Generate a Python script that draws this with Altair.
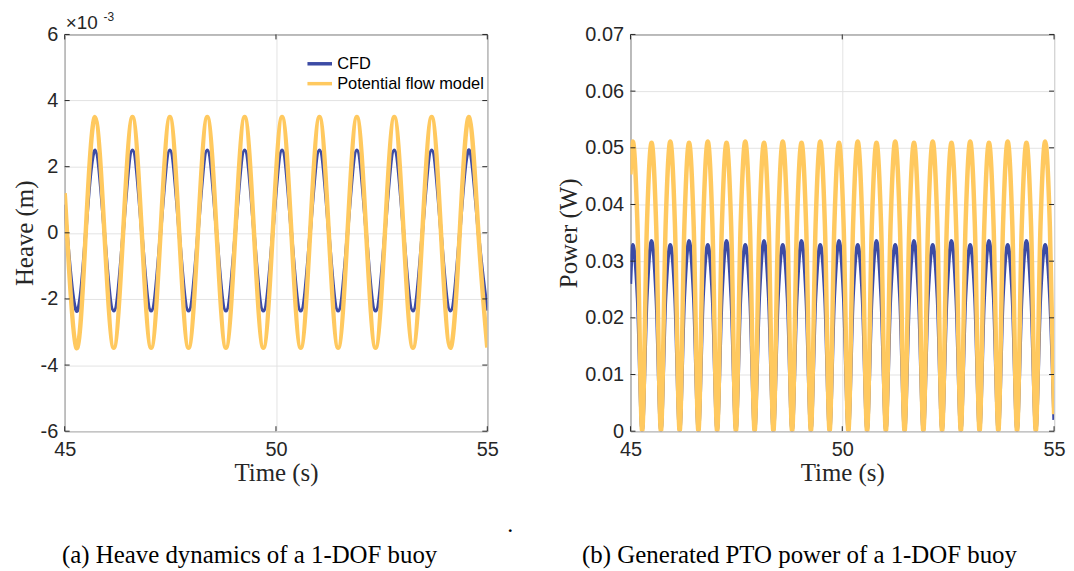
import altair as alt
import pandas as pd

# ---------------- data ----------------
series_names = ["CFD", "Potential flow model"]
series_colors = ["#3c4ba5", "#ffc95f"]

# heave sample times (s): start, extrema / zero crossings, end
heave_t = [45.0,
           45.055, 45.276, 45.498, 45.719, 45.940, 46.161, 46.383, 46.604,
           46.825, 47.046, 47.268, 47.489, 47.710, 47.931, 48.153, 48.374,
           48.595, 48.816, 49.038, 49.259, 49.480, 49.701, 49.923, 50.144,
           50.365, 50.586, 50.808, 51.029, 51.250, 51.471, 51.693, 51.914,
           52.135, 52.356, 52.578, 52.799, 53.020, 53.241, 53.463, 53.684,
           53.905, 54.126, 54.348, 54.569, 54.790,
           55.0]

# heave (x 10^-3 m)
heave_pf = [1.20,
            0, -3.48, 0, 3.50, 0, -3.48, 0, 3.50,
            0, -3.48, 0, 3.50, 0, -3.48, 0, 3.50,
            0, -3.48, 0, 3.50, 0, -3.48, 0, 3.50,
            0, -3.48, 0, 3.50, 0, -3.48, 0, 3.50,
            0, -3.48, 0, 3.50, 0, -3.48, 0, 3.50,
            0, -3.48, 0, 3.50, 0,
            -3.47]
heave_cfd = [0.85,
             0, -2.36, 0, 2.50, 0, -2.36, 0, 2.50,
             0, -2.36, 0, 2.50, 0, -2.36, 0, 2.50,
             0, -2.36, 0, 2.50, 0, -2.36, 0, 2.50,
             0, -2.36, 0, 2.50, 0, -2.36, 0, 2.50,
             0, -2.36, 0, 2.50, 0, -2.36, 0, 2.50,
             0, -2.36, 0, 2.50, 0,
             -2.35]

# power sample times (s): start, peaks / half-way points / zeros, end
power_t = [45.0,
           45.055, 45.166, 45.276, 45.387, 45.498, 45.608, 45.719, 45.829,
           45.940, 46.051, 46.161, 46.272, 46.383, 46.493, 46.604, 46.714,
           46.825, 46.936, 47.046, 47.157, 47.268, 47.378, 47.489, 47.599,
           47.710, 47.821, 47.931, 48.042, 48.153, 48.263, 48.374, 48.484,
           48.595, 48.706, 48.816, 48.927, 49.038, 49.148, 49.259, 49.369,
           49.480, 49.591, 49.701, 49.812, 49.923, 50.033, 50.144, 50.254,
           50.365, 50.476, 50.586, 50.697, 50.808, 50.918, 51.029, 51.139,
           51.250, 51.361, 51.471, 51.582, 51.693, 51.803, 51.914, 52.024,
           52.135, 52.246, 52.356, 52.467, 52.578, 52.688, 52.799, 52.909,
           53.020, 53.131, 53.241, 53.352, 53.463, 53.573, 53.684, 53.794,
           53.905, 54.016, 54.126, 54.237, 54.348, 54.458, 54.569, 54.679,
           54.790, 54.901,
           55.0]

# generated PTO power (W)
power_pf = [0.0453,
            0.0511, 0.0361, 0, 0.0361, 0.0509, 0.0361, 0, 0.0361,
            0.0511, 0.0361, 0, 0.0361, 0.0509, 0.0361, 0, 0.0361,
            0.0511, 0.0361, 0, 0.0361, 0.0509, 0.0361, 0, 0.0361,
            0.0511, 0.0361, 0, 0.0361, 0.0509, 0.0361, 0, 0.0361,
            0.0511, 0.0361, 0, 0.0361, 0.0509, 0.0361, 0, 0.0361,
            0.0511, 0.0361, 0, 0.0361, 0.0509, 0.0361, 0, 0.0361,
            0.0511, 0.0361, 0, 0.0361, 0.0509, 0.0361, 0, 0.0361,
            0.0511, 0.0361, 0, 0.0361, 0.0509, 0.0361, 0, 0.0361,
            0.0511, 0.0361, 0, 0.0361, 0.0509, 0.0361, 0, 0.0361,
            0.0511, 0.0361, 0, 0.0361, 0.0509, 0.0361, 0, 0.0361,
            0.0511, 0.0361, 0, 0.0361, 0.0509, 0.0361, 0, 0.0361,
            0.0511, 0.0361,
            0.0030]
power_cfd = [0.0260,
             0.0329, 0.0235, 0, 0.0235, 0.0336, 0.0235, 0, 0.0235,
             0.0329, 0.0235, 0, 0.0235, 0.0336, 0.0235, 0, 0.0235,
             0.0329, 0.0235, 0, 0.0235, 0.0336, 0.0235, 0, 0.0235,
             0.0329, 0.0235, 0, 0.0235, 0.0336, 0.0235, 0, 0.0235,
             0.0329, 0.0235, 0, 0.0235, 0.0336, 0.0235, 0, 0.0235,
             0.0329, 0.0235, 0, 0.0235, 0.0336, 0.0235, 0, 0.0235,
             0.0329, 0.0235, 0, 0.0235, 0.0336, 0.0235, 0, 0.0235,
             0.0329, 0.0235, 0, 0.0235, 0.0336, 0.0235, 0, 0.0235,
             0.0329, 0.0235, 0, 0.0235, 0.0336, 0.0235, 0, 0.0235,
             0.0329, 0.0235, 0, 0.0235, 0.0336, 0.0235, 0, 0.0235,
             0.0329, 0.0235, 0, 0.0235, 0.0336, 0.0235, 0, 0.0235,
             0.0329, 0.0235,
             0.0020]

x_ticks = [45, 50, 55]
heave_ticks = [-6, -4, -2, 0, 2, 4, 6]
power_ticks = [0, 0.01, 0.02, 0.03, 0.04, 0.05, 0.06, 0.07]

caption_a = "(a) Heave dynamics of a 1-DOF buoy"
caption_b = "(b) Generated PTO power of a 1-DOF buoy"


def long_df(t, cfd, pf):
    return pd.DataFrame({
        "t": t + t,
        "v": cfd + pf,
        "series": [series_names[0]] * len(t) + [series_names[1]] * len(t),
    })


SANS = "Liberation Sans"
SERIF = "Liberation Serif"
AX = "#262626"
W_L, W_R, H = 425, 426, 399
TICK = 5


def panel(df, ytitle, ydomain, yticks, w, h, interp, caption, cap_x, extra=None):
    xscale = alt.Scale(domain=[45, 55], nice=False, zero=False)
    yscale = alt.Scale(domain=ydomain, nice=False, zero=False)
    color = alt.Color(
        "series:N",
        scale=alt.Scale(domain=series_names, range=series_colors),
        legend=alt.Legend(
            title=None, orient="none", legendX=245, legendY=18,
            symbolType="M-1.3,0H1.3", symbolSize=361, symbolStrokeWidth=3.5,
            labelFont=SANS, labelFontSize=16.5, labelColor="black",
            labelOffset=6, rowPadding=0, padding=0,
        ),
    )
    main_x = alt.Axis(values=x_ticks, title="Time (s)", grid=True, ticks=False,
                      domain=False, gridColor="#e3e3e3", labelFont=SANS,
                      labelFontSize=20, labelColor=AX, labelPadding=8,
                      labelFlush=False, labelExpr="toString(datum.value)",
                      titleFont=SERIF, titleFontSize=25, titleFontWeight="normal",
                      titleColor=AX, titlePadding=2)
    main_y = alt.Axis(values=yticks, title=ytitle, grid=True, ticks=False,
                      domain=False, gridColor="#e3e3e3", labelFont=SANS,
                      labelFontSize=20, labelColor=AX, labelPadding=7,
                      labelFlush=False, labelExpr="toString(datum.value)",
                      titleFont=SERIF, titleFontSize=25, titleFontWeight="normal",
                      titleColor=AX, titlePadding=3)
    X = alt.X("t:Q", scale=xscale, axis=main_x)
    Y = alt.Y("v:Q", scale=yscale, axis=main_y)

    base = alt.Chart(df)
    cfd = base.transform_filter(alt.datum.series == series_names[0]).mark_line(
        strokeWidth=3.5, interpolate=interp, clip=True
    ).encode(x=X, y=Y, color=color)
    pf = base.transform_filter(alt.datum.series == series_names[1]).mark_line(
        strokeWidth=4.5, interpolate=interp, clip=True
    ).encode(x=X, y=Y, color=color)

    # inward-pointing tick marks on all four sides (MATLAB box style)
    xt = alt.Chart(pd.DataFrame({"t": x_ticks}))
    yt = alt.Chart(pd.DataFrame({"v": yticks}))
    rule = dict(color=AX, strokeWidth=1)
    t_bottom = xt.mark_rule(**rule).encode(x=X, y=alt.value(h - TICK), y2=alt.value(h))
    t_top = xt.mark_rule(**rule).encode(x=X, y=alt.value(0), y2=alt.value(TICK))
    t_left = yt.mark_rule(**rule).encode(y=Y, x=alt.value(0), x2=alt.value(TICK))
    t_right = yt.mark_rule(**rule).encode(y=Y, x=alt.value(w - TICK), x2=alt.value(w))

    one = alt.Chart(pd.DataFrame({"a": [0]}))
    cap = one.mark_text(text=caption, font=SERIF, fontSize=25, color="black",
                        align="center", baseline="middle").encode(
        x=alt.value(cap_x), y=alt.value(524))

    layers = [cfd, pf, t_bottom, t_top, t_left, t_right, cap]
    if extra:
        layers += extra
    return alt.layer(*layers).properties(width=w, height=h)


one = alt.Chart(pd.DataFrame({"a": [0]}))
exp_main = one.mark_text(
    text="×10", font=SANS, fontSize=19, color=AX, align="left",
    baseline="alphabetic").encode(x=alt.value(1), y=alt.value(-5))
exp_sup = one.mark_text(
    text="-3", font=SANS, fontSize=12, color=AX, align="left",
    baseline="alphabetic").encode(x=alt.value(39), y=alt.value(-14))
dot = one.mark_text(
    text=".", font=SERIF, fontSize=24, color="black", align="center",
    baseline="alphabetic").encode(x=alt.value(448), y=alt.value(500))

left = panel(long_df(heave_t, heave_cfd, heave_pf), "Heave (m)", [-6, 6],
             heave_ticks, W_L, H, "natural", caption_a, 186,
             extra=[exp_main, exp_sup, dot])
right = panel(long_df(power_t, power_cfd, power_pf), "Power (W)", [0, 0.07],
              power_ticks, W_R, H, "monotone", caption_b, 170)

chart = alt.hconcat(left, right, spacing=144, bounds="flush").configure_view(
    stroke=AX, strokeWidth=1
).properties(padding={"left": 3, "top": 0, "right": 0, "bottom": 0})

chart.save("out.html", embed_options={"renderer": "svg", "actions": False})
